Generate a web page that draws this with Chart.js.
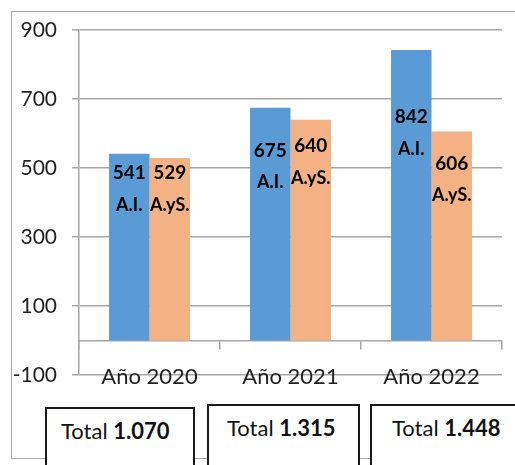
<!DOCTYPE html>
<html lang="es">
<head>
<meta charset="utf-8">
<title>A.I. y A.yS. por año</title>
<script src="https://cdn.jsdelivr.net/npm/chart.js@4.4.1/dist/chart.umd.min.js"></script>
<style>
  html, body { margin: 0; padding: 0; background: #fff; }
  #wrap {
    position: relative; width: 515px; height: 465px; overflow: hidden;
    font-family: Lato, 'Open Sans', sans-serif;
  }
  #frame {
    position: absolute; left: 11px; top: 11px; width: 530px; height: 446px;
    border: 1.5px solid #a6a6a6;
  }
  #chartBox { position: absolute; left: 0; top: 0; }
  .total {
    position: absolute; height: 80px; box-sizing: border-box;
    border: 2px solid #1a1a1a; background: #fff; color: #111;
    font-size: 22px; line-height: 30px; padding-top: 7px; white-space: nowrap;
  }
  .total b { font-weight: bold; }
</style>
</head>
<body>
<div id="wrap">
  <div id="frame"></div>
  <canvas id="chartBox" width="515" height="465"></canvas>
  <div id="totals"></div>
</div>
<script>
// Données du graphique
const years = ['Año 2020', 'Año 2021', 'Año 2022'];
const aiValues = [541, 675, 842];
const aysValues = [529, 640, 606];
const seriesNames = ['A.I.', 'A.yS.'];
const yMin = -100;
const yMax = 900;
const yStep = 200;

// Styles
const FONT = "Lato, 'Open Sans', sans-serif";
const GRID = '#a6a6a6';
const barColors = ['#5b9bd5', '#f4b183'];
// décalage du libellé sous le haut de chaque barre (px)
const labelDrop = [[19, 43, 67], [15, 26, 32]];
const labelGap = 32;

// Boîtes "Total" sous le graphique
const totalBoxes = [
    { left: 45, top: 407, width: 150, pad: 14 },
    { left: 207, top: 404, width: 153, pad: 18 },
    { left: 370, top: 404, width: 160, pad: 20 }
];

function formatThousands(n) {
    return String(n).replace(/\B(?=(\d{3})+(?!\d))/g, '.');
}

const totalsDiv = document.getElementById('totals');
years.forEach((y, i) => {
    const box = totalBoxes[i];
    const el = document.createElement('div');
    el.className = 'total';
    el.style.left = box.left + 'px';
    el.style.top = box.top + 'px';
    el.style.width = box.width + 'px';
    el.style.paddingLeft = box.pad + 'px';
    el.innerHTML = 'Total <b>' + formatThousands(aiValues[i] + aysValues[i]) + '</b>';
    totalsDiv.appendChild(el);
});

// Plugin pour écrire la valeur et le nom de série dans chaque barre
const barLabels = {
    id: 'barLabels',
    afterDatasetsDraw(chart) {
        const ctx = chart.ctx;
        chart.data.datasets.forEach((ds, d) => {
            const meta = chart.getDatasetMeta(d);
            meta.data.forEach((bar, i) => {
                const y = bar.y + labelDrop[d][i];
                ctx.save();
                ctx.fillStyle = '#000';
                ctx.textAlign = 'center';
                ctx.textBaseline = 'middle';
                ctx.font = 'bold 19px ' + FONT;
                ctx.fillText(String(ds.data[i]), bar.x, y);
                ctx.font = 'bold 18px ' + FONT;
                ctx.fillText(ds.label, bar.x, y + labelGap);
                ctx.restore();
            });
        });
    }
};

new Chart(document.getElementById('chartBox'), {
    type: 'bar',
    data: {
        labels: years,
        datasets: [
            { label: seriesNames[0], data: aiValues, backgroundColor: barColors[0] },
            { label: seriesNames[1], data: aysValues, backgroundColor: barColors[1] }
        ]
    },
    options: {
        responsive: false,
        animation: false,
        layout: { padding: { left: 0, top: 30, right: 13, bottom: 90 } },
        datasets: { bar: { categoryPercentage: 0.574, barPercentage: 1 } },
        plugins: {
            legend: { display: false },
            tooltip: { enabled: false }
        },
        scales: {
            x: {
                position: { y: 0 },
                grid: { display: true, drawOnChartArea: false, drawTicks: true, tickLength: 8, color: GRID, lineWidth: 1.5 },
                border: { display: true, color: GRID, width: 1.5 },
                ticks: { font: { family: FONT, size: 22 }, color: '#1f1f1f', padding: 15 }
            },
            y: {
                min: yMin,
                max: yMax,
                ticks: { stepSize: yStep, font: { family: FONT, size: 21 }, color: '#1f1f1f', padding: 15 },
                grid: { color: GRID, lineWidth: 1.5, tickLength: 7 },
                border: { color: GRID, width: 1.5 },
                afterFit(scale) { scale.width = 79; }
            }
        }
    },
    plugins: [barLabels]
});
</script>
</body>
</html>
